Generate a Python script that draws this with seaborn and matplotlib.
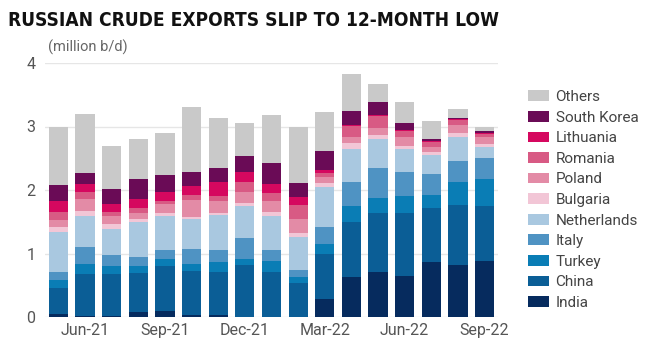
import numpy as np
import pandas as pd
import matplotlib
matplotlib.use("Agg")
import matplotlib.pyplot as plt
import seaborn as sns
from matplotlib.patches import Patch

months = ["May-21", "Jun-21", "Jul-21", "Aug-21", "Sep-21", "Oct-21", "Nov-21", "Dec-21",
          "Jan-22", "Feb-22", "Mar-22", "Apr-22", "May-22", "Jun-22", "Jul-22", "Aug-22", "Sep-22"]
tick_labels = ["Jun-21", "Sep-21", "Dec-21", "Mar-22", "Jun-22", "Sep-22"]

india       = [0.05, 0.01, 0.01, 0.08, 0.09, 0.03, 0.03, 0.00, 0.00, 0.00, 0.29, 0.63, 0.71, 0.65, 0.87, 0.82, 0.88]
china       = [0.41, 0.67, 0.66, 0.61, 0.72, 0.70, 0.68, 0.82, 0.71, 0.54, 0.71, 0.86, 0.93, 0.98, 0.84, 0.94, 0.87]
turkey      = [0.12, 0.16, 0.13, 0.11, 0.11, 0.11, 0.15, 0.09, 0.17, 0.09, 0.15, 0.26, 0.23, 0.28, 0.21, 0.37, 0.42]
italy       = [0.13, 0.27, 0.17, 0.15, 0.13, 0.23, 0.20, 0.34, 0.18, 0.11, 0.26, 0.38, 0.47, 0.37, 0.33, 0.33, 0.34]
netherlands = [0.63, 0.48, 0.42, 0.55, 0.54, 0.48, 0.55, 0.50, 0.53, 0.52, 0.64, 0.51, 0.46, 0.36, 0.30, 0.38, 0.16]
bulgaria    = [0.07, 0.08, 0.07, 0.05, 0.04, 0.03, 0.03, 0.04, 0.07, 0.07, 0.06, 0.10, 0.06, 0.06, 0.05, 0.06, 0.05]
poland      = [0.12, 0.19, 0.13, 0.09, 0.15, 0.26, 0.18, 0.18, 0.17, 0.22, 0.09, 0.09, 0.11, 0.13, 0.08, 0.13, 0.11]
romania     = [0.13, 0.11, 0.07, 0.07, 0.05, 0.08, 0.09, 0.15, 0.12, 0.21, 0.06, 0.18, 0.19, 0.10, 0.08, 0.08, 0.05]
lithuania   = [0.16, 0.12, 0.12, 0.15, 0.14, 0.14, 0.21, 0.17, 0.14, 0.13, 0.05, 0.02, 0.02, 0.01, 0.01, 0.01, 0.02]
south_korea = [0.26, 0.17, 0.23, 0.31, 0.27, 0.23, 0.23, 0.25, 0.33, 0.22, 0.31, 0.22, 0.21, 0.12, 0.03, 0.01, 0.03]
others      = [0.91, 0.93, 0.69, 0.64, 0.65, 1.01, 0.78, 0.51, 0.76, 0.88, 0.61, 0.58, 0.28, 0.33, 0.28, 0.14, 0.06]

series_names = ["India", "China", "Turkey", "Italy", "Netherlands", "Bulgaria",
                "Poland", "Romania", "Lithuania", "South Korea", "Others"]
series_vals = [india, china, turkey, italy, netherlands, bulgaria,
               poland, romania, lithuania, south_korea, others]
colors = ["#062b5e", "#0b5e96", "#0a7db5", "#4f93c3", "#a9c8e0", "#f2c6d6",
          "#e38ba6", "#d85a84", "#d5085f", "#6a0b56", "#c9c9c9"]

sns.set_theme(style="white")
plt.rcParams['font.family'] = ['Roboto', 'DejaVu Sans']

fig = plt.figure(figsize=(6.49, 3.41), dpi=100)
ax = fig.add_axes([45/649, 1 - 317/341, (498-45)/649, (317-63)/341])

bottom = np.zeros(len(months))
for name, vals, col in zip(series_names, series_vals, colors):
    df = pd.DataFrame({"month": months, "value": vals})
    sns.barplot(data=df, x="month", y="value", color=col, width=0.72,
                bottom=bottom, ax=ax, saturation=1, linewidth=0, order=months)
    bottom = bottom + np.array(vals)

ax.set_xlim(-0.5, len(months) - 0.5)
ax.set_ylim(0, 4)
ax.set_yticks([0, 1, 2, 3, 4])
ax.set_yticklabels(["0", "1", "2", "3", "4"])
ax.yaxis.grid(True, color="#e6e6e6", linewidth=1)
ax.set_axisbelow(True)
ax.set_xticks([months.index(t) for t in tick_labels])
ax.set_xticklabels(tick_labels)
ax.tick_params(axis="both", length=0, labelsize=11.5, colors="#555555")
ax.tick_params(axis="y", pad=7)
ax.tick_params(axis="x", pad=4)
ax.set_xlabel("")
ax.set_ylabel("")
for s in ax.spines.values():
    s.set_visible(False)

title = fig.text(8/649, 1 - 20/341, "RUSSIAN CRUDE EXPORTS SLIP TO 12-MONTH LOW",
                 fontsize=16, fontweight="bold", color="#111111", va="center", ha="left",
                 family=["DejaVu Sans"], fontstretch="condensed")
fig.canvas.draw()
w = title.get_window_extent().width
title.set_fontsize(16 * 492 / w)

fig.text(48/649, 1 - 47/341, "(million b/d)", fontsize=10.5, color="#666666",
         va="center", ha="left")

handles = [Patch(facecolor=c, edgecolor="none") for c in colors[::-1]]
fig.legend(handles, series_names[::-1], loc="upper left",
           bbox_to_anchor=(522/649, 1 - 84/341), frameon=False,
           fontsize=11, labelcolor="#444444", handlelength=1.35, handleheight=0.7,
           labelspacing=0.43, handletextpad=0.45, borderaxespad=0)

fig.savefig("out.png", dpi=100)
